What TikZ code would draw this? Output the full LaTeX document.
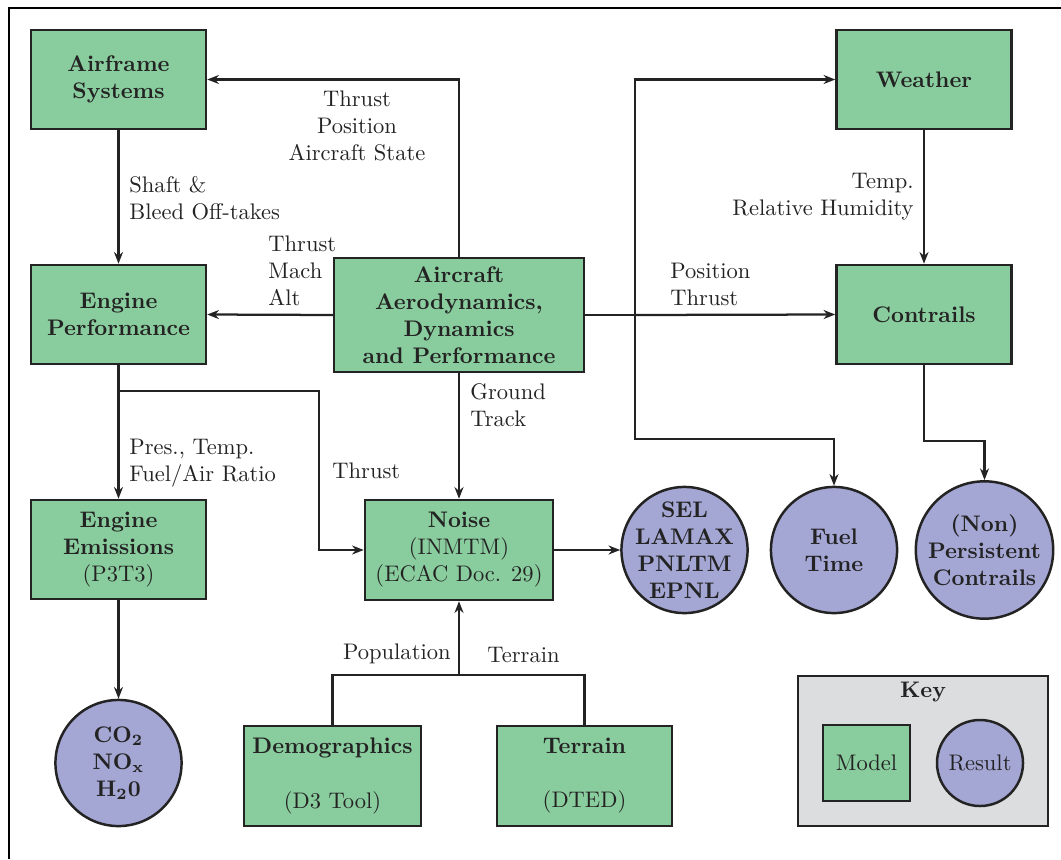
\documentclass[tikz,border=0pt]{standalone}
\usetikzlibrary{arrows.meta}
\definecolor{modelgreen}{RGB}{137,204,157}
\definecolor{resultblue}{RGB}{164,166,212}
\definecolor{keygrey}{RGB}{220,221,223}
\definecolor{inkgrey}{RGB}{35,35,35}
\tikzset{
    model/.style = {draw = inkgrey, line width = 1.1pt, fill = modelgreen, align = center,
        minimum width = 77.7pt, minimum height = 44pt, inner sep = 0pt, text = inkgrey},
    result/.style = {circle, draw = inkgrey, line width = 1.1pt, fill = resultblue, align = center,
        minimum size = 56pt, inner sep = -20pt, font = \bfseries, text = inkgrey},
    lbl/.style = {inner sep = 0pt, text = inkgrey},
    conn/.style = {draw = inkgrey, line width = 1pt, -{Stealth[length = 5.2pt, width = 4pt]}},
    wire/.style = {draw = inkgrey, line width = 1pt}
}
\begin{document}
\begin{tikzpicture}[x = 0.444pt, y = -0.444pt]
                \useasboundingbox (0, 0) rectangle (1061, 859);
                \draw[line width = 1.3pt] (9, 859) -- (9, 8) -- (1061, 8);

                % models
                \node[model, font = \bfseries] (airframe) at (118.5, 79.5) {Airframe\\Systems};
                \node[model, font = \bfseries] (engperf) at (118.5, 314.5) {Engine\\Performance};
                \node[model] (emissions) at (118.5, 549.5) {\textbf{Engine}\\\textbf{Emissions}\\(P3T3)};
                \node[model, font = \bfseries, minimum width = 111pt, minimum height = 50.6pt] (adp) at (459, 315)
                    {Aircraft\\Aerodynamics,\\Dynamics\\and Performance};
                \node[model, minimum width = 83.5pt, minimum height = 44.4pt] (noise) at (459, 550)
                    {\textbf{Noise}\\(INMTM)\\(ECAC Doc. 29)};
                \node[model, font = \bfseries] (weather) at (924, 79.5) {Weather};
                \node[model, font = \bfseries] (contrails) at (924, 314.5) {Contrails};
                \node[model, minimum width = 78.6pt, minimum height = 44.4pt] (demo) at (332.5, 776)
                    {\textbf{Demographics}\\ \\(D3 Tool)};
                \node[model, minimum height = 44.4pt] (terrain) at (584.5, 776)
                    {\textbf{Terrain}\\ \\(DTED)};

                % results
                \node[result] (species) at (118.5, 763) {CO\textsubscript{2}\\NO\textsubscript{x}\\H\textsubscript{2}0};
                \node[result] (metrics) at (684.5, 550) {SEL\\LAMAX\\PNLTM\\EPNL};
                \node[result] (fuel) at (834, 550) {Fuel\\Time};
                \node[result, minimum size = 61pt] (persist) at (984.5, 550) {(Non)\\Persistent\\Contrails};

                % bends
                \coordinate (split) at (635, 315);
                \coordinate (fuelbend) at (635, 439);
                \coordinate (contbend) at (924, 441);
                \coordinate (thrustbend) at (319, 391);
                \coordinate (join) at (459, 675);

                % connectors
                \draw[conn] (adp.north) |- (airframe.east);
                \draw[conn] (airframe.south) -- (engperf.north);
                \draw[conn] (adp.west) -- (engperf.west -| engperf.east);
                \draw[conn] (engperf.south) -- (emissions.north);
                \draw[conn] (engperf.south) |- (thrustbend) |- (noise.west);
                \draw[conn] (adp.south) -- (noise.north);
                \draw[conn] (noise.east) -- (metrics.west);
                \draw[conn] (emissions.south) -- (species.north);
                \draw[wire] (adp.east) -- (split);
                \draw[conn] (split) |- (weather.west);
                \draw[conn] (split) -- (contrails.west);
                \draw[conn] (split) -- (fuelbend) -| (fuel.north);
                \draw[conn] (weather.south) -- (contrails.north);
                \draw[conn] (contrails.south) -- (contbend) -| (persist.north);
                \draw[wire] (demo.north) |- (join);
                \draw[wire] (terrain.north) |- (join);
                \draw[conn] (join) -- (noise.south);

                % labels
                \node[lbl, align = center] (lbltop) at (357, 126) {Thrust\\Position\\Aircraft State};
                \node[lbl, align = left, anchor = west] (lblshaft) at (129, 198.5) {Shaft \&\\Bleed Off-takes};
                \node[lbl, align = left, anchor = west] (lblmach) at (268, 270.5) {Thrust\\Mach\\Alt};
                \node[lbl, align = left, anchor = west] (lblpres) at (129, 463.5) {Pres., Temp.\\Fuel/Air Ratio};
                \node[lbl, anchor = west] (lblthrust) at (332, 471) {Thrust};
                \node[lbl, align = left, anchor = west] (lblground) at (470, 405) {Ground\\Track};
                \node[lbl, anchor = east] (lblpop) at (451, 654) {Population};
                \node[lbl, anchor = west] (lblterr) at (487, 655) {Terrain};
                \node[lbl, align = left, anchor = west] (lblpos) at (670, 284.5) {Position\\Thrust};
                \node[lbl, align = right, anchor = east] (lblhum) at (914, 196.5) {Temp.\\Relative Humidity};

                % key
                \node[draw = inkgrey, line width = 1.1pt, fill = keygrey, minimum width = 111pt, minimum height = 66.6pt]
                    (keybox) at (923, 751) {};
                \node[lbl, font = \bfseries] (keytitle) at (923, 692) {Key};
                \node[model, minimum width = 38.6pt, minimum height = 33.7pt] (keymodel) at (866.5, 763) {Model};
                \node[result, minimum size = 38.2pt, font = \normalfont] (keyresult) at (980, 763) {Result};
            \end{tikzpicture}
\end{document}
